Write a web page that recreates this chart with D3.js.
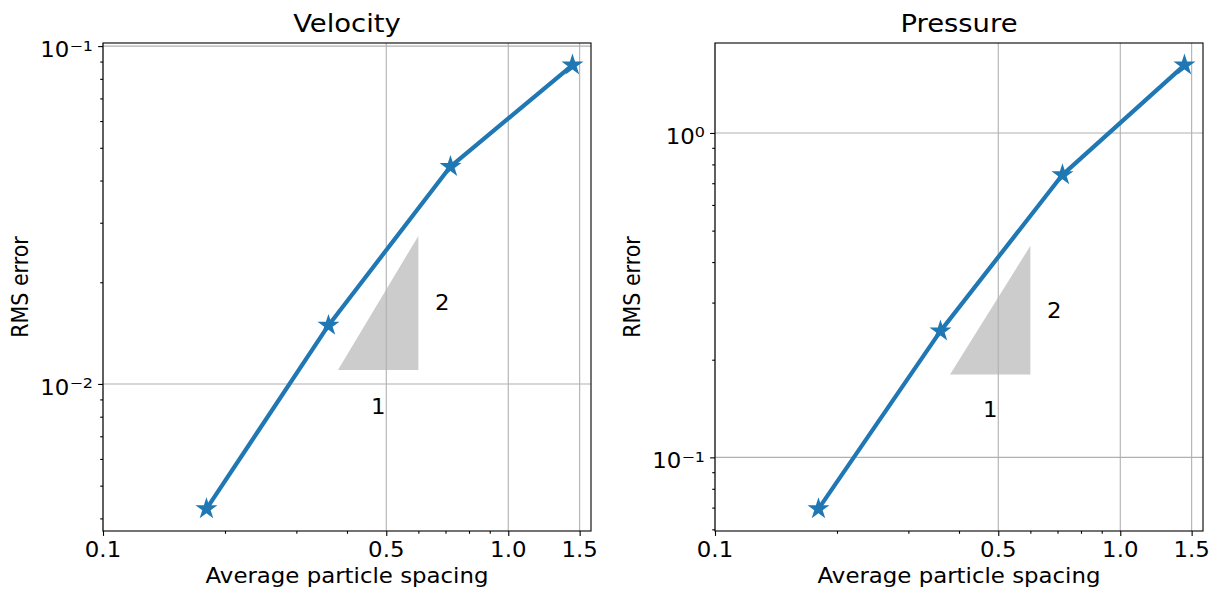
<!DOCTYPE html>
<html>
<head>
<meta charset="utf-8">
<script src="https://cdn.jsdelivr.net/npm/d3@7"></script>
<style>
  body { margin: 0; background: #fff; }
  text { font-family: "DejaVu Sans", sans-serif; fill: #000; }
</style>
</head>
<body>
<div id="chart"></div>
<script>
// data
var spacing = [0.18, 0.36, 0.72, 1.44];
var velocityErr = [0.00427, 0.0149, 0.0440, 0.0878];
var pressureErr = [0.0694, 0.245, 0.743, 1.618];

var xTicks = [0.1, 0.5, 1.0, 1.5];
var xTickLabels = ["0.1", "0.5", "1.0", "1.5"];
var xMinorTicks = [0.2, 0.3, 0.4, 0.6, 0.7, 0.8, 0.9];
var xLimits = [0.1, 1.6];

// slope triangle: x extent and order, y base per panel
var slopeX = [0.38, 0.6];
var slopeOrder = 2;
var velocityBase = 0.011;
var pressureBase = 0.18;

var W = 1214, H = 590;
var fs = 20.6;      // text size
var sx = 1.11;      // the reference picture is a bit wider than tall
var blue = "#1f77b4";

var svg = d3.select("#chart")
  .append("svg")
    .attr("width", W)
    .attr("height", H);

function label(g, px, py, txt, size, anchor, rot) {
  var tf = "translate(" + px + "," + py + ")" + (rot ? " rotate(-90) scale(1," + sx + ")" : " scale(" + sx + ",1)");
  return g.append("text")
    .attr("transform", tf)
    .attr("text-anchor", anchor || "middle")
    .style("font-size", size + "px")
    .text(txt);
}

function panel(left, title, values, triBase) {
  var top = 43, bottom = 531, width = 488;

  var x = d3.scaleLog()
    .domain(xLimits)
    .range([left, left + width]);

  // matplotlib style 5% margin in log space
  var lo = Math.log10(d3.min(values)), hi = Math.log10(d3.max(values));
  var pad = (hi - lo) * 0.05;
  var y = d3.scaleLog()
    .domain([Math.pow(10, lo - pad), Math.pow(10, hi + pad)])
    .range([bottom, top]);

  var yMajor = [], yMinor = [];
  for (var e = Math.floor(lo - pad); e <= Math.ceil(hi + pad); e++) {
    var p = Math.pow(10, e);
    if (p >= y.domain()[0] && p <= y.domain()[1]) yMajor.push(e);
    for (var k = 2; k <= 9; k++) {
      var v = k * p;
      if (v >= y.domain()[0] && v <= y.domain()[1]) yMinor.push(v);
    }
  }

  var g = svg.append("g");

  // slope triangle (below grid)
  var tri = [
    [slopeX[0], triBase],
    [slopeX[1], triBase],
    [slopeX[1], triBase * Math.pow(slopeX[1] / slopeX[0], slopeOrder)]
  ];
  g.append("path")
    .attr("d", d3.line().x(d => x(d[0])).y(d => y(d[1]))(tri) + "Z")
    .attr("fill", "#cccccc");

  // grid
  g.append("g")
    .selectAll("line")
    .data(xTicks)
    .join("line")
      .attr("x1", d => x(d)).attr("x2", d => x(d))
      .attr("y1", top).attr("y2", bottom)
      .attr("stroke", "#b0b0b0").attr("stroke-width", 1.1);
  g.append("g")
    .selectAll("line")
    .data(yMajor)
    .join("line")
      .attr("x1", left).attr("x2", left + width)
      .attr("y1", d => y(Math.pow(10, d))).attr("y2", d => y(Math.pow(10, d)))
      .attr("stroke", "#b0b0b0").attr("stroke-width", 1.1);

  // slope labels
  label(g, x(slopeX[1] * 1.145), y(Math.sqrt(tri[1][1] * tri[2][1])) + 7.5, slopeOrder, fs);
  label(g, x(Math.sqrt(slopeX[0] * slopeX[1])), y(triBase * 0.78) + 7.5, "1", fs);

  // data line and markers
  var pts = spacing.map((s, i) => [s, values[i]]);
  g.append("path")
    .datum(pts)
    .attr("d", d3.line().x(d => x(d[0])).y(d => y(d[1])))
    .attr("fill", "none")
    .attr("stroke", blue)
    .attr("stroke-width", 4.2)
    .attr("stroke-linejoin", "round");
  g.selectAll("path.star")
    .data(pts)
    .join("path")
      .attr("class", "star")
      .attr("transform", d => "translate(" + x(d[0]) + "," + y(d[1]) + ")")
      .attr("d", d3.symbol().type(d3.symbolStar).size(150))
      .attr("fill", blue);

  // axes
  var xAxis = g.append("g")
    .attr("transform", "translate(0," + bottom + ")")
    .call(d3.axisBottom(x).tickValues(xTicks).tickSize(4.9).tickFormat(""));
  xAxis.append("g")
    .call(d3.axisBottom(x).tickValues(xMinorTicks).tickSize(2.8).tickFormat(""));
  xAxis.selectAll(".domain").remove();
  xAxis.selectAll("line").attr("stroke", "#000").attr("stroke-width", 1.1);
  xTicks.forEach(function(t, i) {
    label(g, x(t), 557, xTickLabels[i], fs);
  });

  var yAxis = g.append("g")
    .attr("transform", "translate(" + left + ",0)")
    .call(d3.axisLeft(y).tickValues(yMajor.map(e => Math.pow(10, e))).tickSize(4.9).tickFormat(""));
  yAxis.append("g")
    .call(d3.axisLeft(y).tickValues(yMinor).tickSize(2.8).tickFormat(""));
  yAxis.selectAll(".domain").remove();
  yAxis.selectAll("line").attr("stroke", "#000").attr("stroke-width", 1.1);

  // power-of-ten labels with superscript
  yMajor.forEach(function(e) {
    var t = label(g, left - 10, y(Math.pow(10, e)) + 11, "", fs, "end");
    t.append("tspan").text("10");
    t.append("tspan")
      .attr("dy", "-0.45em")
      .style("font-size", (fs * 0.7) + "px")
      .text(String(e).replace("-", "\u2212"));
  });

  // frame
  g.append("rect")
    .attr("x", left).attr("y", top)
    .attr("width", width).attr("height", bottom - top)
    .attr("fill", "none")
    .attr("stroke", "#000")
    .attr("stroke-width", 1.1);

  // titles and labels
  label(g, left + width / 2, 32, title, fs * 1.2);
  label(g, left + width / 2, 583, "Average particle spacing", fs);
  label(g, left - 75, (top + bottom) / 2, "RMS error", fs, "middle", true);
}

panel(103, "Velocity", velocityErr, velocityBase);
panel(715, "Pressure", pressureErr, pressureBase);
</script>
</body>
</html>
